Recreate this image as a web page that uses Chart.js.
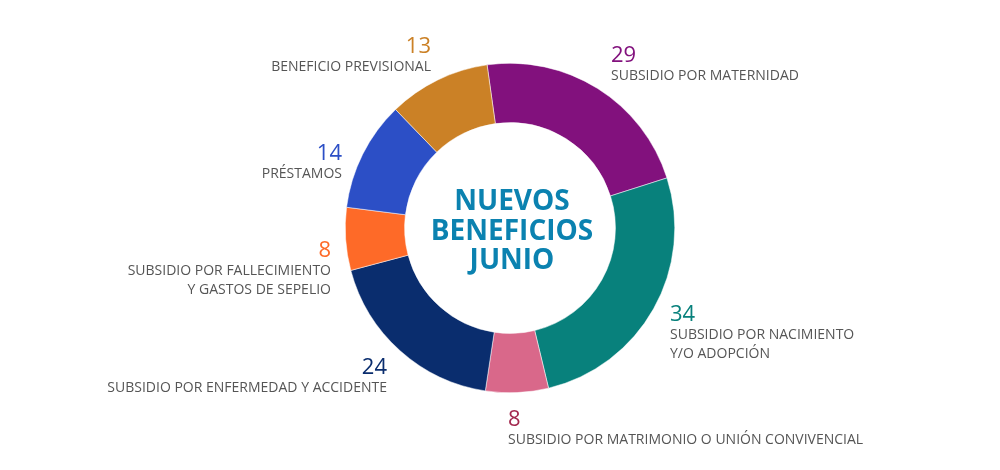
<!DOCTYPE html>
<html>
<head>
<meta charset="utf-8">
<script src="https://cdn.jsdelivr.net/npm/chart.js@4.4.1/dist/chart.umd.min.js"></script>
<style>
  html,body{margin:0;padding:0;background:#fff;}
  #wrap{position:relative;width:1000px;height:470px;}
</style>
</head>
<body>
<div id="wrap"><canvas id="c" width="1000" height="470"></canvas></div>
<script>
const categories = [
  ["SUBSIDIO POR MATERNIDAD"],
  ["SUBSIDIO POR NACIMIENTO", "Y/O ADOPCIÓN"],
  ["SUBSIDIO POR MATRIMONIO O UNIÓN CONVIVENCIAL"],
  ["SUBSIDIO POR ENFERMEDAD Y ACCIDENTE"],
  ["SUBSIDIO POR FALLECIMIENTO", "Y GASTOS DE SEPELIO"],
  ["PRÉSTAMOS"],
  ["BENEFICIO PREVISIONAL"]
];
const values = [29, 34, 8, 24, 8, 14, 13];
const centerTitle = ["NUEVOS", "BENEFICIOS", "JUNIO"];

const sliceColors = ["#82117d", "#08817c", "#d9688a", "#0a2d6e", "#fe6a28", "#2c4fc6", "#cb8126"];
const numberColors = ["#82117d", "#08817c", "#a3294f", "#0a2d6e", "#fe6a28", "#2c4fc6", "#cb8126"];
// label anchor positions (x, y of number centre), alignment
const labelPos = [
  {x:611, y:54, align:"left"},
  {x:670, y:313, align:"left"},
  {x:508, y:418, align:"left"},
  {x:387, y:366, align:"right"},
  {x:331, y:249, align:"right"},
  {x:342, y:152, align:"right"},
  {x:431, y:45, align:"right"}
];

const labelPlugin = {
  id: "labelPlugin",
  afterDraw(chart) {
    const ctx = chart.ctx;
    const meta = chart.getDatasetMeta(0);
    const arc = meta.data[0];
    const cx = arc.x, cy = arc.y;
    ctx.save();
    // center title
    ctx.fillStyle = "#0b82b0";
    ctx.font = "bold 28px 'Open Sans'";
    ctx.textAlign = "center";
    ctx.textBaseline = "middle";
    const offs = [-26, 4, 33];
    centerTitle.forEach((t, i) => {
      ctx.fillText(t, cx + 2, cy + offs[i]);
    });
    // slice labels
    values.forEach((v, i) => {
      const p = labelPos[i];
      ctx.textAlign = p.align;
      ctx.textBaseline = "middle";
      ctx.fillStyle = numberColors[i];
      ctx.font = "500 22px 'Open Sans'";
      ctx.fillText(String(v), p.x, p.y + 2);
      ctx.fillStyle = "#555555";
      ctx.font = "14px 'Open Sans'";
      categories[i].forEach((line, j) => {
        ctx.fillText(line, p.x, p.y + 22 + j * 19);
      });
    });
    ctx.restore();
  }
};

new Chart(document.getElementById("c"), {
  type: "doughnut",
  data: {
    labels: categories.map(c => c.join(" ")),
    datasets: [{
      data: values,
      backgroundColor: sliceColors,
      borderWidth: 0.5,
      borderColor: "#ffffff"
    }]
  },
  options: {
    responsive: false,
    animation: false,
    rotation: -8,
    cutout: "64%",
    layout: {padding: {top: 63, bottom: 77, left: 20, right: 0}},
    plugins: {legend: {display: false}, tooltip: {enabled: false}}
  },
  plugins: [labelPlugin]
});
</script>
</body>
</html>
